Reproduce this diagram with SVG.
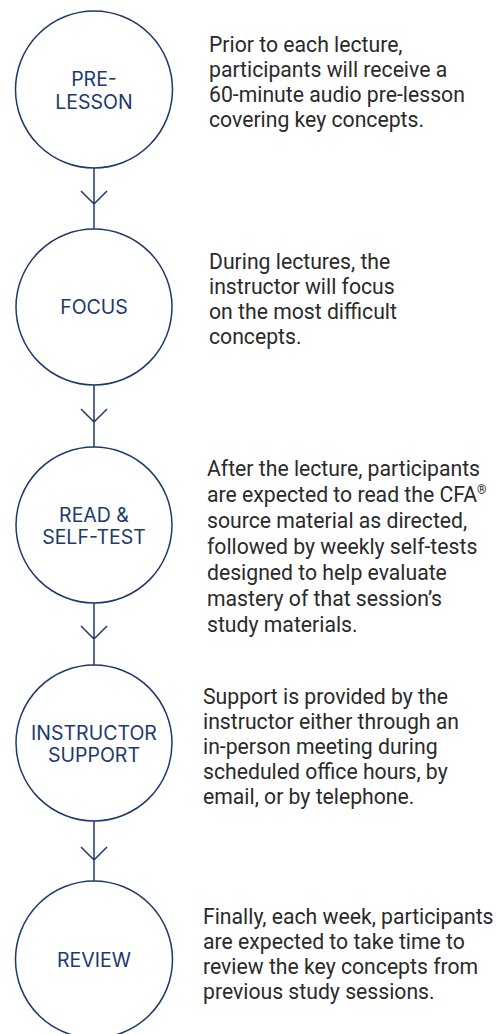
<svg xmlns="http://www.w3.org/2000/svg" width="497" height="1034" viewBox="0 0 497 1034">
<style>
.node circle{fill:#fff;stroke:#1c3a6b;stroke-width:1.5}
.lbl{font-family:Inter,"Noto Sans",sans-serif;font-size:19.5px;fill:#1c3a6b;text-anchor:middle}
.body{font-family:Roboto,"Liberation Sans",sans-serif;font-size:21.2px;fill:#2a2a2a}
#connectors path{fill:none;stroke:#1c3a6b;stroke-width:1.5}
</style>
<rect width="497" height="1034" fill="#fff"/>
<g id="connectors">
<path d="M94 168V229M81 191L94 204L107 191"/>
<path d="M94 385V447M81 409L94 422L107 409"/>
<path d="M94 603V665M81 626L94 639L107 626"/>
<path d="M94 821V881M81 847L94 860L107 847"/>
</g>
<g id="pre-lesson" class="node"><circle cx="94" cy="89.5" r="78.5"/><text class="lbl"><tspan x="94" y="86">PRE-</tspan><tspan x="94" y="108.5">LESSON</tspan></text></g>
<g id="focus" class="node"><circle cx="94" cy="307" r="78"/><text class="lbl" x="94" y="314">FOCUS</text></g>
<g id="read-self-test" class="node"><circle cx="94" cy="525" r="78"/><text class="lbl"><tspan x="94" y="521.5">READ &amp;</tspan><tspan x="94" y="544">SELF-TEST</tspan></text></g>
<g id="instructor-support" class="node"><circle cx="94" cy="743" r="78"/><text class="lbl"><tspan x="94" y="739.5">INSTRUCTOR</tspan><tspan x="94" y="762">SUPPORT</tspan></text></g>
<g id="review" class="node"><circle cx="94" cy="959.5" r="78.5"/><text class="lbl" x="94" y="966.5">REVIEW</text></g>
<g id="desc-1"><text class="body"><tspan x="209" y="52">Prior to each lecture,</tspan><tspan x="209" y="77">participants will receive a</tspan><tspan x="209" y="102">60-minute audio pre-lesson</tspan><tspan x="209" y="127">covering key concepts.</tspan></text></g>
<g id="desc-2"><text class="body"><tspan x="209" y="269">During lectures, the</tspan><tspan x="209" y="294">instructor will focus</tspan><tspan x="209" y="319">on the most difficult</tspan><tspan x="209" y="344">concepts.</tspan></text></g>
<g id="desc-3"><text class="body"><tspan x="207" y="476">After the lecture, participants</tspan><tspan x="207" y="502">are expected to read the CFA<tspan font-size="12" dy="-8">®</tspan></tspan><tspan x="207" y="528">source material as directed,</tspan><tspan x="207" y="554">followed by weekly self-tests</tspan><tspan x="207" y="580">designed to help evaluate</tspan><tspan x="207" y="606">mastery of that session’s</tspan><tspan x="207" y="632">study materials.</tspan></text></g>
<g id="desc-4"><text class="body"><tspan x="203" y="704">Support is provided by the</tspan><tspan x="203" y="729">instructor either through an</tspan><tspan x="203" y="754">in-person meeting during</tspan><tspan x="203" y="779">scheduled office hours, by</tspan><tspan x="203" y="804">email, or by telephone.</tspan></text></g>
<g id="desc-5"><text class="body"><tspan x="203" y="924">Finally, each week, participants</tspan><tspan x="203" y="949">are expected to take time to</tspan><tspan x="203" y="974">review the key concepts from</tspan><tspan x="203" y="999">previous study sessions.</tspan></text></g>
</svg>
